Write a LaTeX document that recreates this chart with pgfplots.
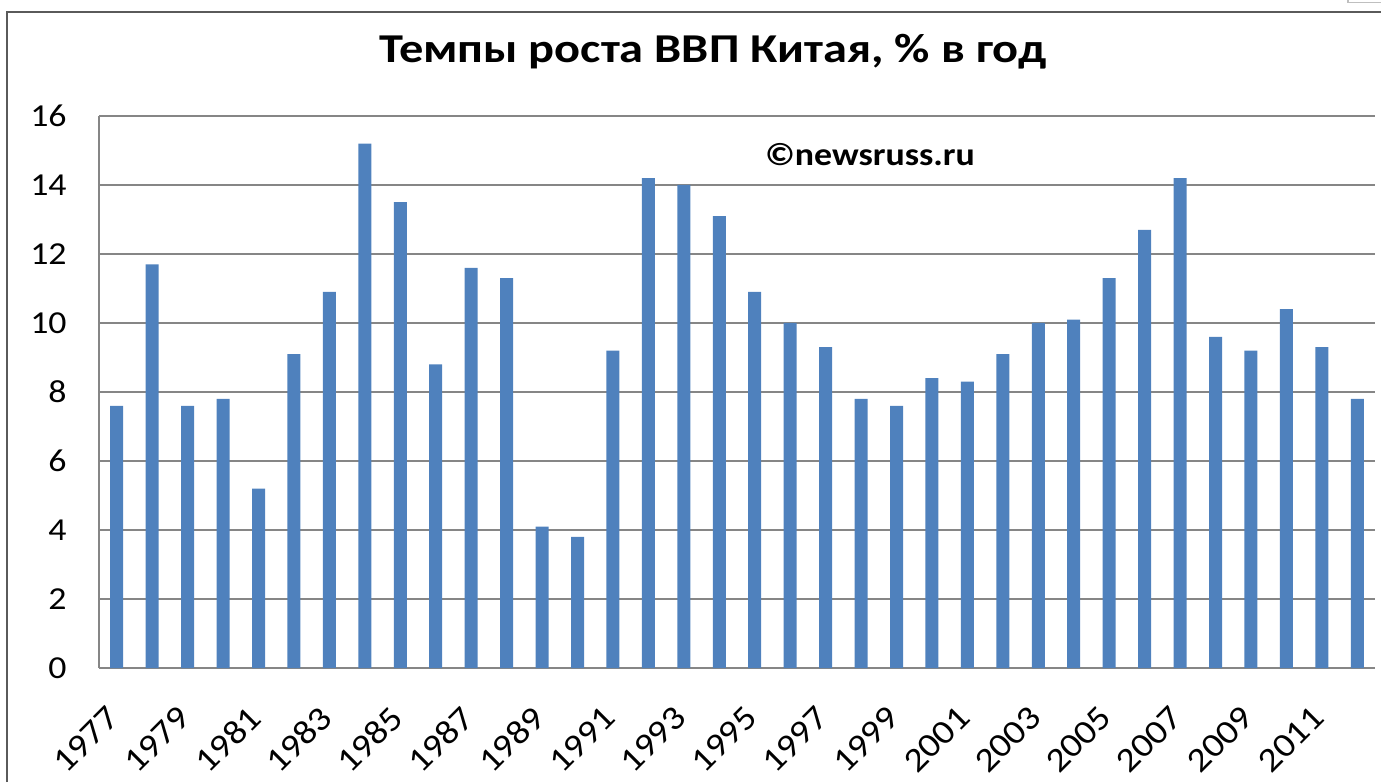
\documentclass[border=0pt]{standalone}
\usepackage{fontspec}
\setmainfont[FakeStretch=1.12]{Carlito}
\newfontfamily\titlefont[FakeStretch=1.18]{Carlito}
\usepackage{pgfplots}
\pgfplotsset{compat=1.18}
\definecolor{barblue}{HTML}{4F81BD}
\definecolor{gridgray}{HTML}{868686}
\definecolor{framegray}{HTML}{5A5A5A}

\pgfplotstableread{
year gdp
1977 7.6
1978 11.7
1979 7.6
1980 7.8
1981 5.2
1982 9.1
1983 10.9
1984 15.2
1985 13.5
1986 8.8
1987 11.6
1988 11.3
1989 4.1
1990 3.8
1991 9.2
1992 14.2
1993 14.0
1994 13.1
1995 10.9
1996 10.0
1997 9.3
1998 7.8
1999 7.6
2000 8.4
2001 8.3
2002 9.1
2003 10.0
2004 10.1
2005 11.3
2006 12.7
2007 14.2
2008 9.6
2009 9.2
2010 10.4
2011 9.3
2012 7.8
}\gdptable

\begin{document}
\begin{tikzpicture}
\useasboundingbox (0,0) rectangle (690.5pt,391pt);
% outer chart frame (right and bottom edges are cut off in the source)
\draw[line width=1.2pt,framegray] (3.5pt,0) -- (3.5pt,385pt) -- (690.5pt,385pt);
\draw[line width=0.8pt,gray!50] (674pt,391pt) -- (674pt,389.8pt) -- (690.5pt,389.8pt);
\node[font=\titlefont\bfseries\fontsize{20.5}{24}\selectfont] at (356.5pt,365pt)
  {Темпы роста ВВП Китая, \% в год};
\begin{axis}[at={(49.5pt,57pt)},anchor=south west,scale only axis,
  width=638pt,height=276pt,
  ybar,bar width=6.5pt,
  xmin=1976.5,xmax=2012.5,ymin=0,ymax=16,
  xtick={1977,1979,...,2011},ytick={0,2,...,16},
  axis x line*=bottom,axis y line*=left,
  axis line style={gridgray,line width=0.9pt},
  ymajorgrids,major grid style={gridgray,line width=0.9pt},
  major tick length=0pt,
  tick label style={font=\fontsize{16}{18}\selectfont},
  /pgf/number format/assume math mode=true,
  /pgf/number format/1000 sep={},
  yticklabel style={anchor=east,inner sep=0pt,xshift=-16pt},
  xticklabel style={font=\fontsize{17}{19}\selectfont,anchor=east,inner sep=0pt,
    xshift=-1.5pt,yshift=-22pt,rotate=45}]
\addplot[fill=barblue,draw=none] table[x=year,y=gdp] {\gdptable};
\end{axis}
\node[font=\bfseries\fontsize{16}{18}\selectfont] at (435pt,313.5pt) {©newsruss.ru};
\end{tikzpicture}
\end{document}
